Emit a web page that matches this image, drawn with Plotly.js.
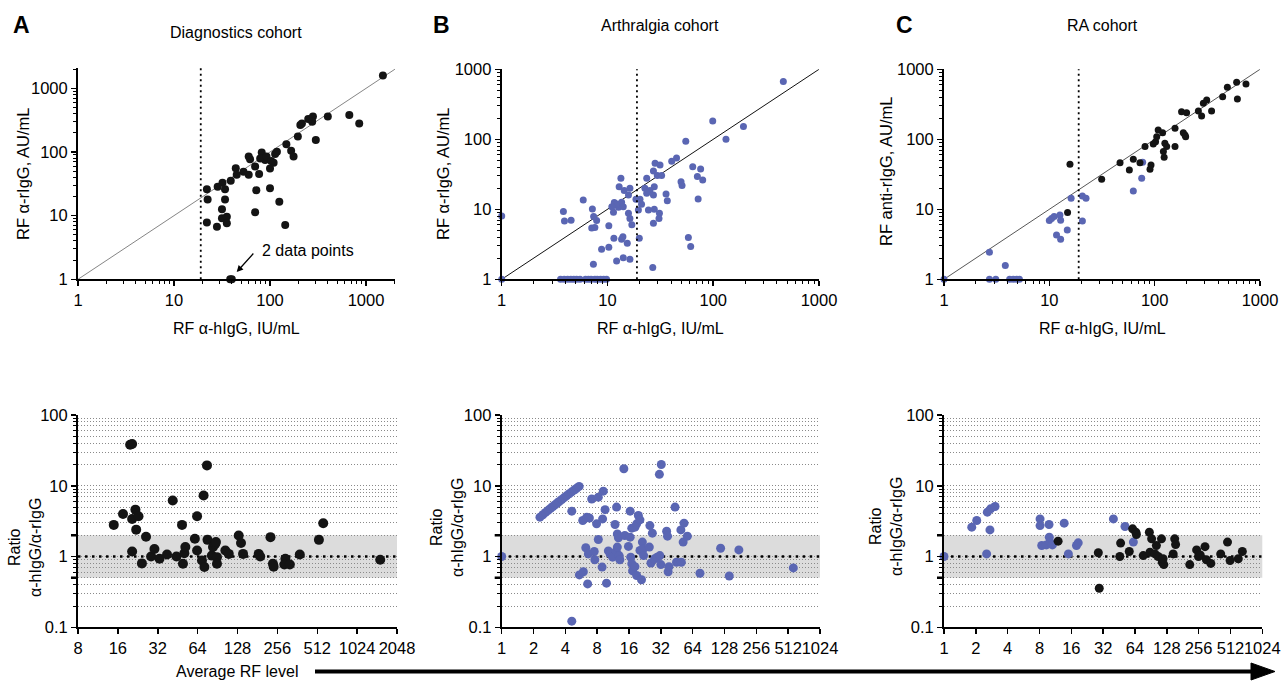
<!DOCTYPE html>
<html><head><meta charset="utf-8">
<script src="https://cdn.plot.ly/plotly-3.0.1.min.js"></script>
<style>html,body{margin:0;padding:0;background:#fff}#chart{width:1282px;height:681px}</style>
</head><body><div id="chart"></div><script>
// ---------- DATA ([x, y] pairs) ----------
// Panel A top: RF α-hIgG (IU/mL) vs RF α-rIgG (AU/mL), diagnostics cohort
const aTopPoints = [[1500,1600],[670,380],[850,280],[400,360],[280,360],[275,300],[250,330],[300,155],[207,265],[215,280],[195,175],[148,133],[166,105],[176,85],[144,7.1],[125,16.6],[118,101],[113,93],[109,68],[100,55],[100,27],[82,98],[89,75],[79,79],[92,85],[103,72],[62,77],[60,85],[70,59],[77,45],[72,25],[70,11.3],[60,44],[53,49],[44,55.6],[45,44],[39,35.5],[32,33],[28.5,28.5],[34,26],[22,26],[22.4,18],[34,18],[31.6,12.6],[31.6,9.1],[35.5,9.6],[35.5,7.6],[22,7.8],[28,6.7],[38.5,1],[40,1]];
// Panel A bottom: average RF level vs ratio
const aBotPoints = [[14.9,2.8],[17.5,4.0],[19.8,38],[20.5,39],[20.5,3.4],[21.7,4.6],[22.9,3.7],[22,2.4],[20.5,1.18],[24.3,0.8],[26.1,1.9],[28.5,1.0],[30.2,1.28],[33,0.93],[37.6,1.07],[41.5,6.2],[44.3,1.0],[48.8,2.8],[49.6,0.79],[50.8,1.11],[51.7,1.36],[63.4,3.7],[61,1.78],[63.4,1.22],[69,0.88],[71,7.3],[72,0.71],[75.3,19.4],[76,1.72],[82,1.03],[83.6,1.36],[86.9,1.51],[88,1.6],[89.6,0.98],[89.6,0.79],[103.6,1.22],[110,1.09],[130.7,1.98],[136,1.55],[141,1.09],[185,1.09],[190,1.0],[227,1.88],[237,0.79],[240,0.72],[294,0.93],[289,0.77],[318,0.77],[378,1.07],[527,1.72],[568,2.96],[1530,0.9]];
// Panel B top: arthralgia cohort
const bTopPoints = [[1,8],[1,1],[3.6,1],[3.9,1],[4.2,1],[4.5,1],[4.8,1],[5.1,1],[5.5,1],[6.2,1],[6.6,1],[7.0,1],[7.6,1],[8.0,1],[8.6,1],[9.2,1],[9.8,1],[460,667],[98.9,183],[132,100],[193,152],[55,94],[45,54],[40.5,48.5],[64,40.7],[76,37.7],[70.8,29.3],[79.5,26.2],[72,14],[49.6,24.8],[50.7,21.8],[28.2,45.4],[31.4,43],[27.2,35.3],[23.5,27.7],[29.6,30.3],[32.5,30.3],[27.7,21],[22.6,20],[25.2,18.5],[23.5,17],[27.2,16],[35.8,16.6],[36.8,13.3],[20.3,13.9],[18.6,13.9],[21,11.8],[19.6,9.8],[24.4,9.8],[27.7,10],[31,8.8],[30.7,7.4],[27.2,6.3],[26.8,1.48],[20,3.85],[16.3,7.4],[15.8,8.8],[17,6.0],[16.3,1.93],[14.1,2.04],[15.4,3.27],[13.6,3.73],[14,4.07],[12.2,1.83],[11.5,3.85],[10.3,2.87],[8.8,2.68],[10.3,5.8],[7.36,1.64],[7.1,5.4],[7.6,5.5],[7.9,6.9],[7.4,7.9],[7.2,10.1],[5.9,13.6],[3.83,9.3],[3.92,6.8],[4.53,7.0],[13.4,27.7],[12.9,21],[14.4,18.5],[11.4,9.1],[11.6,12.5],[12.7,10.7],[13.6,12.6],[12.2,11.9],[11,10.9],[14.1,10.9],[58.2,3.94],[61.2,2.93],[16.3,20],[15.8,16]];
// Panel B bottom
const bBotPoints = [[1,1],[2.3,3.6],[2.45,3.9],[2.6,4.2],[2.75,4.5],[2.9,4.8],[3.05,5.1],[3.2,5.4],[3.35,5.7],[3.5,6.0],[3.7,6.4],[3.9,6.8],[4.1,7.2],[4.35,7.7],[4.6,8.2],[4.9,8.8],[5.1,9.2],[5.4,9.8],[4.6,4.38],[4.6,0.122],[5.84,3.23],[6.37,3.6],[6.75,3.5],[6.24,1.33],[6.6,1.09],[5.43,0.55],[5.92,0.61],[6.5,0.41],[7.1,6.5],[8.2,6.9],[9.14,8.4],[7.9,2.9],[9.0,3.4],[9.5,4.6],[7.5,1.18],[7.6,0.9],[8.2,1.74],[8.9,0.71],[9.8,0.42],[10.2,1.2],[10.6,1.09],[11.2,0.98],[12.1,1.19],[12.9,1.03],[12.4,1.36],[13.1,0.9],[12.2,5.0],[11.8,2.84],[12.4,2.09],[12.7,1.84],[14.3,17.4],[14.6,1.98],[16.4,1.88],[15.8,1.39],[16.4,4.38],[17,2.52],[18.2,2.6],[18.9,2.9],[19.6,3.8],[20.3,3.3],[16.6,0.98],[17,0.79],[17.3,0.63],[18.2,0.72],[18.9,0.54],[21,0.47],[20.3,1.22],[21.4,1.6],[21.8,1.28],[22,1.03],[24.9,1.36],[25.2,2.74],[26.6,2.14],[25.8,0.81],[28,0.93],[29.5,0.98],[31.3,1.03],[32,0.77],[31,14.5],[32.3,20],[36.3,2.28],[37,1.94],[37.5,0.61],[38.2,0.72],[43.6,5.0],[45,0.83],[50,0.83],[49.5,2.38],[53,2.96],[52,1.6],[57,1.94],[75,0.58],[117.6,1.31],[142,0.53],[175,1.24],[573,0.69]];
// Panel C top: RA cohort (blue and black groups)
const cTopBlue = [[1,1],[2.7,1],[3.1,1],[4.2,1],[4.55,1],[4.9,1],[5.2,1],[2.7,2.43],[3.82,1.57],[10,6.9],[10.5,7.4],[11.1,7.9],[12.6,8.3],[12.8,7.0],[11.7,4.3],[12.8,3.73],[14.8,5.07],[16.1,14.4],[20.6,15.5],[22.3,14.4],[20.6,6.8],[62.7,18.3],[75.3,27.7],[76.9,46.9]];
const cTopBlack = [[15.7,44],[14.9,9.0],[31.4,26.8],[46.9,46.4],[57.5,36.5],[62.7,51.8],[72.5,46.4],[81,78.6],[90.3,37.3],[92.3,43],[97,85.8],[102,92.6],[104.6,109],[108,136],[119,124],[125,87.7],[130,78.6],[121,66.7],[123,55.3],[156,144],[156,78.6],[187,124],[194,115],[197,109],[180,248],[201,240],[260,254],[279,215],[347,254],[290,327],[312,365],[442,407],[490,553],[600,652],[610,377],[736,617]];
// Panel C bottom
const cBotBlue = [[1,1],[1.83,2.6],[2.04,3.23],[2.57,4.24],[2.76,4.72],[3.04,5.1],[2.72,2.38],[2.53,1.09],[8.1,3.4],[8.1,2.74],[9.85,2.84],[8.4,1.43],[9.3,1.46],[9.9,1.88],[10.05,1.6],[10.6,1.46],[13.7,2.96],[15,1.09],[17.9,1.43],[18.6,1.56],[40,3.4],[51.5,2.66],[61.8,1.6]];
const cBotBlack = [[12.0,1.65],[28.8,1.13],[29.4,0.356],[46,1.0],[46.8,1.55],[56.5,1.18],[60.8,2.46],[65.2,2.2],[66,2.05],[76.6,1.03],[87.5,2.2],[88.7,1.15],[92,1.78],[99,1.09],[102,1.43],[106,1.0],[114,1.78],[116,0.83],[120,0.77],[118,0.93],[147,1.09],[152,1.78],[155,1.48],[211,0.77],[245,1.24],[255,1.0],[265,1.05],[294,1.38],[303,0.9],[334,0.8],[414,1.09],[480,1.6],[508,0.88],[607,0.93],[663,1.18]];

// Tick labels
const topTicks = [1, 10, 100, 1000];
const ratioTicks = [0.1, 1, 10, 100];
const aBotTicks = [8, 16, 32, 64, 128, 256, 512, 1024, 2048];
const bcBotTicks = [1, 2, 4, 8, 16, 32, 64, 128, 256, 512, 1024];
const cutoff = 19;

// ---------- helpers ----------
const W = 1282, H = 681;
const FONT = 'Liberation Sans, Arial, Helvetica, sans-serif';
const BLUE = '#5a66b3', BLACK = '#141414';
const px = x => x / W, py = y => 1 - y / H;
const minorLog = (lo, hi) => { const v = []; for (let d = lo; d <= hi; d++) for (let k = 2; k <= 9; k++) v.push(k * Math.pow(10, d)); return v; };
const xs = p => p.map(d => d[0]), ys = p => p.map(d => d[1]);

function topAx(dom, range, anchor) {
  return {type:'log', domain:dom, range:range, anchor:anchor, showline:true, linewidth:2, linecolor:'black',
    ticks:'outside', ticklen:5, tickwidth:1.5, tickcolor:'black', tickmode:'array', tickvals:topTicks, ticktext:topTicks.map(String),
    tickangle:0, showgrid:false, zeroline:false, tickfont:{family:FONT, size:16.5, color:'black'},
    minor:{tickmode:'array', tickvals:minorLog(0,3), ticks:'outside', ticklen:3, tickwidth:1, tickcolor:'black', showgrid:false}};
}
function botX(dom, ticks, anchor) {
  return {type:'log', domain:dom, range:[Math.log10(ticks[0]), Math.log10(ticks[ticks.length-1])], anchor:anchor, showline:true, linewidth:2, linecolor:'black',
    ticks:'outside', ticklen:5, tickwidth:1.5, tickcolor:'black', tickmode:'array', tickvals:ticks, ticktext:ticks.map(String),
    tickangle:0, showgrid:false, zeroline:false, tickfont:{family:FONT, size:16.5, color:'black'}};
}
function botY(dom, anchor) {
  return {type:'log', domain:dom, range:[-1, 2], anchor:anchor, showline:true, linewidth:2, linecolor:'black',
    ticks:'outside', ticklen:5, tickwidth:1.5, tickcolor:'black', tickmode:'array', tickvals:ratioTicks, ticktext:['0.1','1','10','100'],
    tickangle:0, showgrid:true, gridcolor:'#8a8a8a', gridwidth:1, griddash:'1px,2px', zeroline:false, tickfont:{family:FONT, size:16.5, color:'black'},
    minor:{tickmode:'array', tickvals:minorLog(-1,1), ticks:'outside', ticklen:3, tickwidth:1, tickcolor:'black', showgrid:true, gridcolor:'#8a8a8a', gridwidth:1, griddash:'1px,2px'}};
}
function pts(p, xa, ya, color, size) {
  return {type:'scatter', mode:'markers', x:xs(p), y:ys(p), xaxis:xa, yaxis:ya, cliponaxis:false, hoverinfo:'skip',
    marker:{color:color, size:size, line:{width:0}}};
}
function diag(xa, ya, hi, color, w) {
  return {type:'scatter', mode:'lines', x:[1, hi], y:[1, hi], xaxis:xa, yaxis:ya, hoverinfo:'skip', line:{color:color, width:w}};
}
function unity(xa, ya) {
  return {type:'scatter', mode:'lines', x:[xa === 'x4' ? 8 : 1, xa === 'x4' ? 2048 : 1024], y:[1, 1], xaxis:xa, yaxis:ya, hoverinfo:'skip', cliponaxis:false,
    line:{color:'black', width:2.5, dash:'2.5px,4.5px'}};
}

const topYdom = [py(279.3), py(69.3)];
const botYdom = [py(627.3), py(415)];

const data = [
  diag('x','y', 2000, '#666', 0.8),
  pts(aTopPoints, 'x', 'y', BLACK, 8),
  diag('x2','y2', 1000, '#111', 1),
  pts(bTopPoints, 'x2', 'y2', BLUE, 7),
  diag('x3','y3', 1000, '#444', 0.9),
  pts(cTopBlue, 'x3', 'y3', BLUE, 7),
  pts(cTopBlack, 'x3', 'y3', BLACK, 7),
  unity('x4','y4'), unity('x5','y5'), unity('x6','y6'),
  pts(aBotPoints, 'x4', 'y4', BLACK, 10),
  pts(bBotPoints, 'x5', 'y5', BLUE, 9),
  pts(cBotBlue, 'x6', 'y6', BLUE, 9),
  pts(cBotBlack, 'x6', 'y6', BLACK, 9)
];

const shapes = [];
// vertical cut-off lines
[['x','y'],['x2','y2'],['x3','y3']].forEach(([xa, ya]) => {
  shapes.push({type:'line', xref:xa, yref:ya+' domain', x0:cutoff, x1:cutoff, y0:0, y1:1, line:{color:'black', width:1.8, dash:'2px,3.5px'}});
});
// bands and long ticks in ratio panels
[['x4','y4'],['x5','y5'],['x6','y6']].forEach(([xa, ya]) => {
  shapes.push({type:'rect', xref:xa+' domain', yref:ya, x0:0, x1:1, y0:0.5, y1:2, fillcolor:'#dcdcdc', line:{width:0}, layer:'below'});
  [2, 0.5].forEach(v => shapes.push({type:'line', xref:xa+' domain', yref:ya, x0:-0.022, x1:0, y0:v, y1:v, line:{color:'black', width:2.5}}));
});
// long arrow at the bottom
shapes.push({type:'line', xref:'paper', yref:'paper', x0:px(315), x1:px(1254), y0:py(671.5), y1:py(671.5), line:{color:'black', width:4}});
shapes.push({type:'path', xref:'paper', yref:'paper', path:`M ${px(1251)} ${py(663)} L ${px(1275)} ${py(671.5)} L ${px(1251)} ${py(680)} Z`, fillcolor:'black', line:{color:'black', width:1}});

function txt(text, x, y, size, opts) {
  return Object.assign({text:text, xref:'paper', yref:'paper', x:px(x), y:py(y), xanchor:'center', yanchor:'middle', showarrow:false,
    font:{family:FONT, size:size, color:'black'}}, opts || {});
}
const annotations = [
  txt('<b>A</b>', 21, 25, 23), txt('<b>B</b>', 441, 25, 23), txt('<b>C</b>', 904, 25, 23),
  txt('Diagnostics cohort', 236, 32, 16), txt('Arthralgia cohort', 660, 26, 16), txt('RA cohort', 1102, 26, 16),
  txt('RF α-rIgG, AU/mL', 23, 174, 16.5, {textangle:-90}),
  txt('RF α-rIgG, AU/mL', 443, 174, 16.5, {textangle:-90}),
  txt('RF anti-rIgG, AU/mL', 886, 172, 16.5, {textangle:-90}),
  txt('RF α-hIgG, IU/mL', 236, 328, 16), txt('RF α-hIgG, IU/mL', 660, 328, 16), txt('RF α-hIgG, IU/mL', 1102, 328, 16),
  txt('Ratio<br>α-hIgG/α-rIgG', 25, 548, 16, {textangle:-90}),
  txt('Ratio<br>α-hIgG/α-rIgG', 447, 527, 16, {textangle:-90}),
  txt('Ratio<br>α-hIgG/α-rIgG', 886, 527, 16, {textangle:-90}),
  txt('2 data points', 308, 251, 16),
  txt('Average RF level', 237, 671, 16),
  {text:'', xref:'x', yref:'y', x:Math.log10(45), y:Math.log10(1.3), showarrow:true, arrowhead:2, arrowsize:1, arrowwidth:1.3, arrowcolor:'black', ax:18, ay:-20}
];

const layout = {
  width:W, height:H, margin:{l:0, r:0, t:0, b:0}, paper_bgcolor:'white', plot_bgcolor:'rgba(0,0,0,0)', showlegend:false,
  font:{family:FONT, color:'black'},
  xaxis: topAx([px(78), px(395)], [0, 3.302], 'y'),
  yaxis: topAx([py(279.3), py(68)], [0, 3.32], 'x'),
  xaxis2: topAx([px(501.7), px(819)], [0, 3], 'y2'),
  yaxis2: topAx(topYdom, [0, 3], 'x2'),
  xaxis3: topAx([px(944), px(1260)], [0, 3], 'y3'),
  yaxis3: topAx(topYdom, [0, 3], 'x3'),
  xaxis4: botX([px(78), px(397)], aBotTicks, 'y4'),
  yaxis4: botY(botYdom, 'x4'),
  xaxis5: botX([px(501.7), px(820)], bcBotTicks, 'y5'),
  yaxis5: botY(botYdom, 'x5'),
  xaxis6: botX([px(944), px(1262.3)], bcBotTicks, 'y6'),
  yaxis6: botY(botYdom, 'x6'),
  shapes: shapes, annotations: annotations
};
Plotly.newPlot('chart', data, layout, {staticPlot:true, displayModeBar:false});
</script></body></html>
